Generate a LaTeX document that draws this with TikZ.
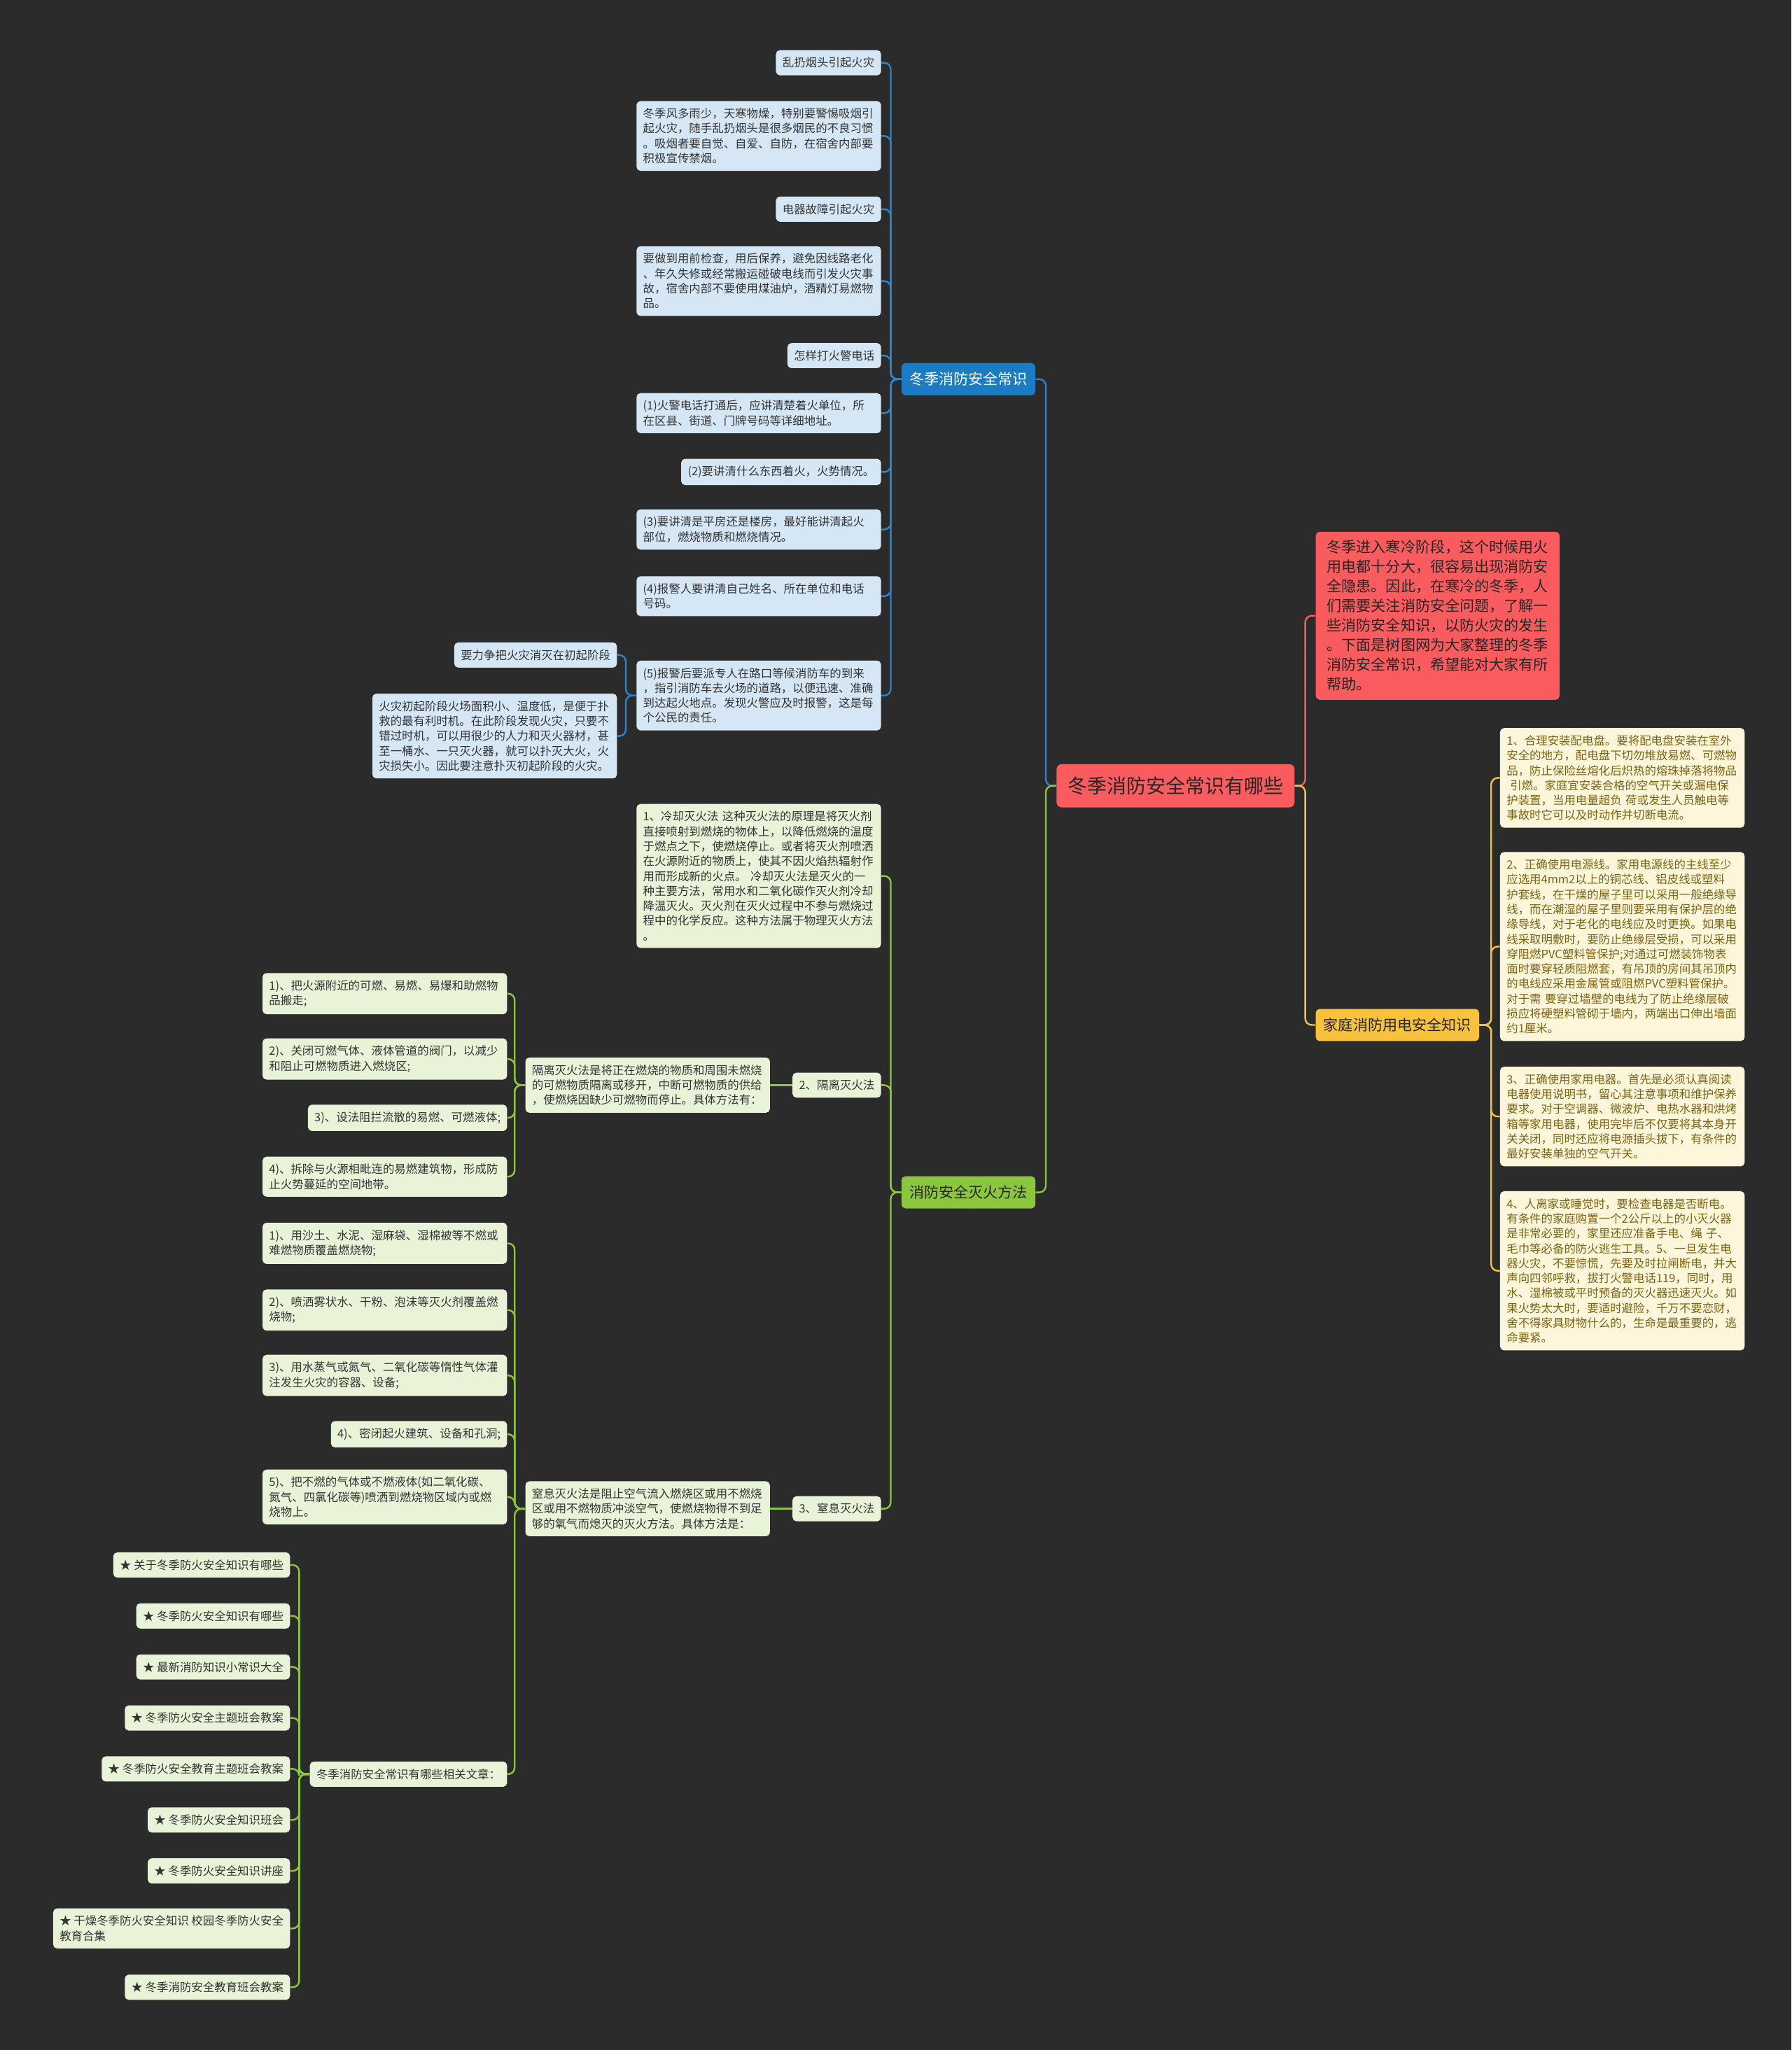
\documentclass[tikz,border=0pt]{standalone}
\usepackage{fontspec}
\setmainfont{Noto Sans CJK SC}
\definecolor{bgdark}{HTML}{2B2B2B}
\definecolor{rootred}{HTML}{F95B5E}
\definecolor{bluemain}{HTML}{1C7CC3}
\definecolor{blueleaf}{HTML}{D5E7F5}
\definecolor{blueline}{HTML}{2D84C8}
\definecolor{yellowmain}{HTML}{F8C23C}
\definecolor{yellowleaf}{HTML}{FDF6DA}
\definecolor{yellowline}{HTML}{F3C143}
\definecolor{yellowtext}{HTML}{7D6214}
\definecolor{greenmain}{HTML}{8CC63E}
\definecolor{greenleaf}{HTML}{E9F3D8}
\definecolor{greenline}{HTML}{8BC83F}
\colorlet{leaftext}{black!80}
\colorlet{darktext}{black!85}

\tikzset{
  leaf/.style={rounded corners=3pt,inner xsep=5pt,inner ysep=5.5pt,
    font=\fontsize{8.8}{11.4}\selectfont,align=left},
  para/.style={text width=177pt},
  bleaf/.style={leaf,fill=blueleaf,text=leaftext},
  yleaf/.style={leaf,fill=yellowleaf,text=yellowtext},
  gleaf/.style={leaf,fill=greenleaf,text=leaftext},
  mainbox/.style={rounded corners=3pt,inner xsep=6pt,inner ysep=7pt,
    font=\fontsize{11.3}{15}\selectfont,align=left},
  bline/.style={draw=blueline,line width=1.3pt,rounded corners=5pt},
  yline/.style={draw=yellowline,line width=1.3pt,rounded corners=5pt},
  gline/.style={draw=greenline,line width=1.3pt,rounded corners=5pt},
  rline/.style={draw=rootred,line width=1.3pt,rounded corners=5pt}
}

\begin{document}
\begin{tikzpicture}[x=1pt,y=-1pt]
  % Background
  \fill[bgdark] (0,0) rectangle (1370,1568);
  \useasboundingbox (0,0) rectangle (1370,1568);

  % Root and main topics
  \node[rounded corners=4pt,fill=rootred,text=darktext,inner xsep=8.5pt,inner ysep=9.5pt,
    font=\fontsize{15}{18}\selectfont] (root) at (899,601) {冬季消防安全常识有哪些};
  \node[mainbox,fill=rootred,text=darktext,inner xsep=8.5pt,inner ysep=6.5pt,anchor=west]
    (intro) at (1006,471) {冬季进入寒冷阶段，这个时候用火\\用电都十分大，很容易出现消防安\\全隐患。因此，在寒冷的冬季，人\\们需要关注消防安全问题，了解一\\些消防安全知识，以防火灾的发生\\。下面是树图网为大家整理的冬季\\消防安全常识，希望能对大家有所\\帮助。};
  \node[mainbox,fill=yellowmain,text=darktext,anchor=west] (home) at (1006,784) {家庭消防用电安全知识};
  \node[mainbox,fill=bluemain,text=white,anchor=east] (common) at (792,290) {冬季消防安全常识};
  \node[mainbox,fill=greenmain,text=darktext,anchor=east] (method) at (792,912) {消防安全灭火方法};

  % Home electricity
  \node[yleaf,para,anchor=west] (y1) at (1147,595) {1、合理安装配电盘。要将配电盘安装在室外\\安全的地方，配电盘下切勿堆放易燃、可燃物\\品，防止保险丝熔化后炽热的熔珠掉落将物品\\\hspace*{0.3em}引燃。家庭宜安装合格的空气开关或漏电保\\护装置，当用电量超负 荷或发生人员触电等\\事故时它可以及时动作并切断电流。};
  \node[yleaf,para,anchor=west] (y2) at (1147,724) {2、正确使用电源线。家用电源线的主线至少\\应选用4mm2以上的铜芯线、铝皮线或塑料\\护套线，在干燥的屋子里可以采用一般绝缘导\\线，而在潮湿的屋子里则要采用有保护层的绝\\缘导线，对于老化的电线应及时更换。如果电\\线采取明敷时，要防止绝缘层受损，可以采用\\穿阻燃PVC塑料管保护;对通过可燃装饰物表\\面时要穿轻质阻燃套，有吊顶的房间其吊顶内\\的电线应采用金属管或阻燃PVC塑料管保护。\\对于需 要穿过墙壁的电线为了防止绝缘层破\\损应将硬塑料管砌于墙内，两端出口伸出墙面\\约1厘米。};
  \node[yleaf,para,anchor=west] (y3) at (1147,854) {3、正确使用家用电器。首先是必须认真阅读\\电器使用说明书，留心其注意事项和维护保养\\要求。对于空调器、微波炉、电热水器和烘烤\\箱等家用电器，使用完毕后不仅要将其本身开\\关关闭，同时还应将电源插头拔下，有条件的\\最好安装单独的空气开关。};
  \node[yleaf,para,anchor=west] (y4) at (1147,972) {4、人离家或睡觉时，要检查电器是否断电。\\有条件的家庭购置一个2公斤以上的小灭火器\\是非常必要的，家里还应准备手电、绳 子、\\毛巾等必备的防火逃生工具。5、一旦发生电\\器火灾，不要惊慌，先要及时拉闸断电，并大\\声向四邻呼救，拔打火警电话119，同时，用\\水、湿棉被或平时预备的灭火器迅速灭火。如\\果火势太大时，要适时避险，千万不要恋财，\\舍不得家具财物什么的，生命是最重要的，逃\\命要紧。};

  % Common knowledge
  \node[bleaf,anchor=east] (b1) at (674,48) {乱扔烟头引起火灾};
  \node[bleaf,para,anchor=east] (b2) at (674,104) {冬季风多雨少，天寒物燥，特别要警惕吸烟引\\起火灾，随手乱扔烟头是很多烟民的不良习惯\\。吸烟者要自觉、自爱、自防，在宿舍内部要\\积极宣传禁烟。};
  \node[bleaf,anchor=east] (b3) at (674,160) {电器故障引起火灾};
  \node[bleaf,para,anchor=east] (b4) at (674,215) {要做到用前检查，用后保养，避免因线路老化\\、年久失修或经常搬运碰破电线而引发火灾事\\故，宿舍内部不要使用煤油炉，酒精灯易燃物\\品。};
  \node[bleaf,anchor=east] (b5) at (674,272) {怎样打火警电话};
  \node[bleaf,para,anchor=east] (b6) at (674,316) {(1)火警电话打通后，应讲清楚着火单位，所\\在区县、街道、门牌号码等详细地址。};
  \node[bleaf,anchor=east] (b7) at (674,361) {(2)要讲清什么东西着火，火势情况。};
  \node[bleaf,para,anchor=east] (b8) at (674,405) {(3)要讲清是平房还是楼房，最好能讲清起火\\部位，燃烧物质和燃烧情况。};
  \node[bleaf,para,anchor=east] (b9) at (674,456) {(4)报警人要讲清自己姓名、所在单位和电话\\号码。};
  \node[bleaf,para,anchor=east] (b10) at (674,532) {(5)报警后要派专人在路口等候消防车的到来\\，指引消防车去火场的道路，以便迅速、准确\\到达起火地点。发现火警应及时报警，这是每\\个公民的责任。};
  \node[bleaf,anchor=east] (b11) at (472,501) {要力争把火灾消灭在初起阶段};
  \node[bleaf,para,anchor=east] (b12) at (472,563) {火灾初起阶段火场面积小、温度低，是便于扑\\救的最有利时机。在此阶段发现火灾，只要不\\错过时机，可以用很少的人力和灭火器材，甚\\至一桶水、一只灭火器，就可以扑灭大火，火\\灾损失小。因此要注意扑灭初起阶段的火灾。};

  % Fire fighting methods
  \node[gleaf,para,anchor=east] (g1) at (674,670) {1、冷却灭火法 这种灭火法的原理是将灭火剂\\直接喷射到燃烧的物体上，以降低燃烧的温度\\于燃点之下，使燃烧停止。或者将灭火剂喷洒\\在火源附近的物质上，使其不因火焰热辐射作\\用而形成新的火点。 冷却灭火法是灭火的一\\种主要方法，常用水和二氧化碳作灭火剂冷却\\降温灭火。灭火剂在灭火过程中不参与燃烧过\\程中的化学反应。这种方法属于物理灭火方法\\。};
  \node[gleaf,anchor=east] (g2) at (674,830) {2、隔离灭火法};
  \node[gleaf,anchor=east] (g3) at (674,1154) {3、窒息灭火法};
  \node[gleaf,para,anchor=east] (sep) at (589,830) {隔离灭火法是将正在燃烧的物质和周围未燃烧\\的可燃物质隔离或移开，中断可燃物质的供给\\，使燃烧因缺少可燃物而停止。具体方法有：};
  \node[gleaf,para,anchor=east] (suf) at (589,1154) {窒息灭火法是阻止空气流入燃烧区或用不燃烧\\区或用不燃物质冲淡空气，使燃烧物得不到足\\够的氧气而熄灭的灭火方法。具体方法是：};
  \node[gleaf,para,anchor=east] (sep1) at (388,760) {1)、把火源附近的可燃、易燃、易爆和助燃物\\品搬走;};
  \node[gleaf,para,anchor=east] (sep2) at (388,810) {2)、关闭可燃气体、液体管道的阀门，以减少\\和阻止可燃物质进入燃烧区;};
  \node[gleaf,anchor=east] (sep3) at (388,855) {3)、设法阻拦流散的易燃、可燃液体;};
  \node[gleaf,para,anchor=east] (sep4) at (388,900) {4)、拆除与火源相毗连的易燃建筑物，形成防\\止火势蔓延的空间地带。};
  \node[gleaf,para,anchor=east] (suf1) at (388,951) {1)、用沙土、水泥、湿麻袋、湿棉被等不燃或\\难燃物质覆盖燃烧物;};
  \node[gleaf,para,anchor=east] (suf2) at (388,1002) {2)、喷洒雾状水、干粉、泡沫等灭火剂覆盖燃\\烧物;};
  \node[gleaf,para,anchor=east] (suf3) at (388,1052) {3)、用水蒸气或氮气、二氧化碳等惰性气体灌\\注发生火灾的容器、设备;};
  \node[gleaf,anchor=east] (suf4) at (388,1097) {4)、密闭起火建筑、设备和孔洞;};
  \node[gleaf,para,anchor=east] (suf5) at (388,1145) {5)、把不燃的气体或不燃液体(如二氧化碳、\\氮气、四氯化碳等)喷洒到燃烧物区域内或燃\\烧物上。};
  \node[gleaf,anchor=east] (rel) at (388,1357) {冬季消防安全常识有哪些相关文章：};

  % Related articles
  \node[gleaf,anchor=east] (a1) at (222,1197) {★ 关于冬季防火安全知识有哪些};
  \node[gleaf,anchor=east] (a2) at (222,1236) {★ 冬季防火安全知识有哪些};
  \node[gleaf,anchor=east] (a3) at (222,1275) {★ 最新消防知识小常识大全};
  \node[gleaf,anchor=east] (a4) at (222,1314) {★ 冬季防火安全主题班会教案};
  \node[gleaf,anchor=east] (a5) at (222,1353) {★ 冬季防火安全教育主题班会教案};
  \node[gleaf,anchor=east] (a6) at (222,1392) {★ 冬季防火安全知识班会};
  \node[gleaf,anchor=east] (a7) at (222,1431) {★ 冬季防火安全知识讲座};
  \node[gleaf,anchor=east] (a8) at (222,1475) {★ 干燥冬季防火安全知识 校园冬季防火安全\\教育合集};
  \node[gleaf,anchor=east] (a9) at (222,1520) {★ 冬季消防安全教育班会教案};

  % Wires
  \draw[rline] (root.east) -- ++(8,0) |- (intro.west);
  \draw[yline] (root.east) -- ++(8,0) |- (home.west);
  \draw[bline] (root.west) -- ++(-8,0) |- (common.east);
  \draw[gline] (root.west) -- ++(-8,0) |- (method.east);
  \draw[yline] (home.east) -- ++(9,0) |- (y1.west);
  \draw[yline] (home.east) -- ++(9,0) |- (y2.west);
  \draw[yline] (home.east) -- ++(9,0) |- (y3.west);
  \draw[yline] (home.east) -- ++(9,0) |- (y4.west);
  \draw[bline] (common.west) -- ++(-8,0) |- (b1.east);
  \draw[bline] (common.west) -- ++(-8,0) |- (b2.east);
  \draw[bline] (common.west) -- ++(-8,0) |- (b3.east);
  \draw[bline] (common.west) -- ++(-8,0) |- (b4.east);
  \draw[bline] (common.west) -- ++(-8,0) |- (b5.east);
  \draw[bline] (common.west) -- ++(-8,0) |- (b6.east);
  \draw[bline] (common.west) -- ++(-8,0) |- (b7.east);
  \draw[bline] (common.west) -- ++(-8,0) |- (b8.east);
  \draw[bline] (common.west) -- ++(-8,0) |- (b9.east);
  \draw[bline] (common.west) -- ++(-8,0) |- (b10.east);
  \draw[bline] (b10.west) -- ++(-8,0) |- (b11.east);
  \draw[bline] (b10.west) -- ++(-8,0) |- (b12.east);
  \draw[gline] (method.west) -- ++(-8,0) |- (g1.east);
  \draw[gline] (method.west) -- ++(-8,0) |- (g2.east);
  \draw[gline] (method.west) -- ++(-8,0) |- (g3.east);
  \draw[gline] (g2.west) -- (sep.east);
  \draw[gline] (g3.west) -- (suf.east);
  \draw[gline] (sep.west) -- ++(-8,0) |- (sep1.east);
  \draw[gline] (sep.west) -- ++(-8,0) |- (sep2.east);
  \draw[gline] (sep.west) -- ++(-8,0) |- (sep3.east);
  \draw[gline] (sep.west) -- ++(-8,0) |- (sep4.east);
  \draw[gline] (suf.west) -- ++(-8,0) |- (suf1.east);
  \draw[gline] (suf.west) -- ++(-8,0) |- (suf2.east);
  \draw[gline] (suf.west) -- ++(-8,0) |- (suf3.east);
  \draw[gline] (suf.west) -- ++(-8,0) |- (suf4.east);
  \draw[gline] (suf.west) -- ++(-8,0) |- (suf5.east);
  \draw[gline] (suf.west) -- ++(-8,0) |- (rel.east);
  \draw[gline] (rel.west) -- ++(-8,0) |- (a1.east);
  \draw[gline] (rel.west) -- ++(-8,0) |- (a2.east);
  \draw[gline] (rel.west) -- ++(-8,0) |- (a3.east);
  \draw[gline] (rel.west) -- ++(-8,0) |- (a4.east);
  \draw[gline] (rel.west) -- ++(-8,0) |- (a5.east);
  \draw[gline] (rel.west) -- ++(-8,0) |- (a6.east);
  \draw[gline] (rel.west) -- ++(-8,0) |- (a7.east);
  \draw[gline] (rel.west) -- ++(-8,0) |- (a8.east);
  \draw[gline] (rel.west) -- ++(-8,0) |- (a9.east);
\end{tikzpicture}
\end{document}
